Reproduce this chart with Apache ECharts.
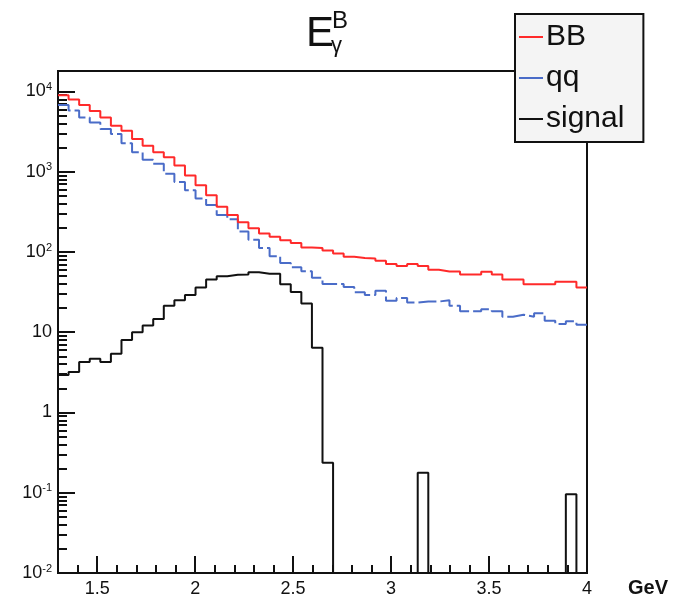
<!DOCTYPE html>
<html>
<head>
<meta charset="utf-8">
<script src="https://cdn.jsdelivr.net/npm/echarts@6/dist/echarts.min.js"></script>
<style>
html,body{margin:0;padding:0;background:#fff;}
#chart{width:673px;height:603px;}
</style>
</head>
<body>
<div id="chart"></div>
<script>
// Histogram binning (50 bins from 1.3 to 4.0 GeV)
var xMin = 1.3;
var xMax = 4.0;
var nBins = 50;

// Bin contents
var bbValues = [9000, 7960, 6780, 5710, 4730, 3730, 3240, 2550, 2110, 1750,
                1520, 1200, 900, 677, 510, 366, 290, 235, 198, 170,
                155, 140, 129, 114, 112, 104, 96, 87, 84, 83,
                78, 71, 67, 71, 67, 60, 57, 57, 52.5, 52.5,
                56.6, 52.5, 45.5, 45.5, 39.5, 39.5, 39.5, 42.7, 42.7, 36];
var qqValues = [6780, 5800, 4730, 4110, 3400, 2950, 2260, 1750, 1410, 1256,
                944, 745, 588, 464, 384, 290, 255, 180, 142, 112,
                88.5, 73, 64.7, 57.7, 47.7, 40, 40, 36.6, 31.5, 29.2,
                33, 24.7, 26.7, 23.4, 24.1, 24.1, 25.1, 21.4, 18.2, 18.2,
                19.4, 18.2, 15.6, 16.5, 15.6, 17.3, 13.9, 12.7, 13.7, 12.4];
var signalValues = [2.94, 3.2, 4.26, 4.68, 4.26, 5.4, 8.0, 10.0, 12.1, 14.6,
                    21.4, 25.1, 29.2, 36, 45.5, 50, 52, 52.5, 56, 53.5,
                    53.5, 39.5, 31.8, 22.8, 6.4, 0.237, 0, 0, 0, 0,
                    0, 0, 0, 0, 0.178, 0, 0, 0, 0, 0,
                    0, 0, 0, 0, 0, 0, 0, 0, 0.096, 0];

// Axis ticks
var yMin = 0.01;
var yMax = 18000;
var yMajorTicks = [0.01, 0.1, 1, 10, 100, 1000, 10000];
var yMinorTicks = [];
yMajorTicks.forEach(function (d) {
  for (var m = 2; m <= 9; m++) { var v = d * m; if (v < yMax) yMinorTicks.push(+v.toPrecision(3)); }
});
var xMajorTicks = [1.5, 2, 2.5, 3, 3.5, 4];
var xMinorTicks = [1.4, 1.6, 1.7, 1.8, 1.9, 2.1, 2.2, 2.3, 2.4, 2.6, 2.7, 2.8, 2.9,
                   3.1, 3.2, 3.3, 3.4, 3.6, 3.7, 3.8, 3.9];

var binWidth = (xMax - xMin) / nBins;
function histData(vals) {
  var out = [];
  for (var k = 0; k < vals.length; k++) {
    var v = vals[k] > 0 ? vals[k] : yMin;
    out.push([xMin + k * binWidth, v]);
  }
  var last = vals[vals.length - 1] > 0 ? vals[vals.length - 1] : yMin;
  out.push([xMax, last]);
  return out;
}

var FONT = 'Liberation Sans';
var chart = echarts.init(document.getElementById('chart'), null, {renderer: 'canvas'});

function yFmt(v) {
  var e = Math.round(Math.log10(v));
  if (e === 0) return '1';
  if (e === 1) return '10';
  return '{b|10}{s|' + e + '}';
}

chart.setOption({
  backgroundColor: '#ffffff',
  animation: false,
  title: [
    {text: 'E', left: 301, top: 8, textStyle: {fontFamily: FONT, fontSize: 42, fontWeight: 'normal', color: '#111'}},
    {text: 'B', left: 327, top: 4, textStyle: {fontFamily: FONT, fontSize: 24, fontWeight: 'normal', color: '#111'}},
    {text: 'γ', left: 326, top: 30, textStyle: {fontFamily: FONT, fontSize: 22, fontWeight: 'normal', color: '#111'}}
  ],
  legend: {
    orient: 'vertical',
    left: 515, top: 14,
    backgroundColor: '#f4f4f4',
    borderColor: '#111', borderWidth: 2,
    padding: [8, 19, 8, 4],
    itemGap: 11,
    itemWidth: 24, itemHeight: 2,
    icon: 'rect',
    textStyle: {fontFamily: FONT, fontSize: 30, lineHeight: 30, color: '#111', padding: [0, 0, 0, -2]},
    data: ['BB', 'qq', 'signal']
  },
  grid: {left: 58, right: 86, top: 71, bottom: 25, show: true, borderColor: '#111', borderWidth: 2, containLabel: false},
  xAxis: [
    {
      type: 'value', min: xMin, max: xMax, position: 'bottom',
      axisLine: {show: true, lineStyle: {color: '#111', width: 2}},
      axisTick: {show: true, inside: true, length: 17, customValues: xMajorTicks, lineStyle: {color: '#111', width: 2}},
      axisLabel: {show: true, customValues: xMajorTicks, margin: 7, fontFamily: FONT, fontSize: 18, color: '#111',
                  formatter: function (v) { return String(v); }},
      splitLine: {show: false},
      name: 'GeV', nameLocation: 'end', nameGap: 41,
      nameTextStyle: {fontFamily: FONT, fontSize: 20, fontWeight: 'bold', color: '#111', verticalAlign: 'top', lineHeight: 30}
    },
    {
      type: 'value', min: xMin, max: xMax, position: 'bottom',
      axisLine: {show: false},
      axisTick: {show: true, inside: true, length: 8, customValues: xMinorTicks, lineStyle: {color: '#111', width: 2}},
      axisLabel: {show: false},
      splitLine: {show: false}
    }
  ],
  yAxis: [
    {
      type: 'log', logBase: 10, min: yMin, max: yMax, position: 'left',
      axisLine: {show: true, lineStyle: {color: '#111', width: 2}},
      axisTick: {show: true, inside: true, length: 17, customValues: yMajorTicks, lineStyle: {color: '#111', width: 2}},
      axisLabel: {show: true, customValues: yMajorTicks, margin: 6, fontFamily: FONT, fontSize: 18, color: '#111',
        formatter: yFmt,
        rich: {
          b: {fontFamily: FONT, fontSize: 18, color: '#111'},
          s: {fontFamily: FONT, fontSize: 11, color: '#111', verticalAlign: 'bottom', padding: [0, 0, 9, 0]}
        }},
      splitLine: {show: false}
    },
    {
      type: 'log', logBase: 10, min: yMin, max: yMax, position: 'left',
      axisLine: {show: false},
      axisTick: {show: true, inside: true, length: 9, customValues: yMinorTicks, lineStyle: {color: '#111', width: 2}},
      axisLabel: {show: false},
      splitLine: {show: false}
    }
  ],
  series: [
    {name: 'BB', type: 'line', step: 'end', xAxisIndex: 0, yAxisIndex: 0, showSymbol: false, symbol: 'none',
     data: histData(bbValues), lineStyle: {color: '#ff2a2a', width: 2}, itemStyle: {color: '#ff2a2a'}, z: 3},
    {name: 'qq', type: 'line', step: 'end', xAxisIndex: 0, yAxisIndex: 0, showSymbol: false, symbol: 'none',
     data: histData(qqValues), lineStyle: {color: '#4a6cc8', width: 2, type: [18, 4]}, itemStyle: {color: '#4a6cc8'}, z: 2},
    {name: 'signal', type: 'line', step: 'end', xAxisIndex: 0, yAxisIndex: 0, showSymbol: false, symbol: 'none',
     data: histData(signalValues), lineStyle: {color: '#111', width: 2}, itemStyle: {color: '#111'}, z: 2}
  ]
});
</script>
</body>
</html>
